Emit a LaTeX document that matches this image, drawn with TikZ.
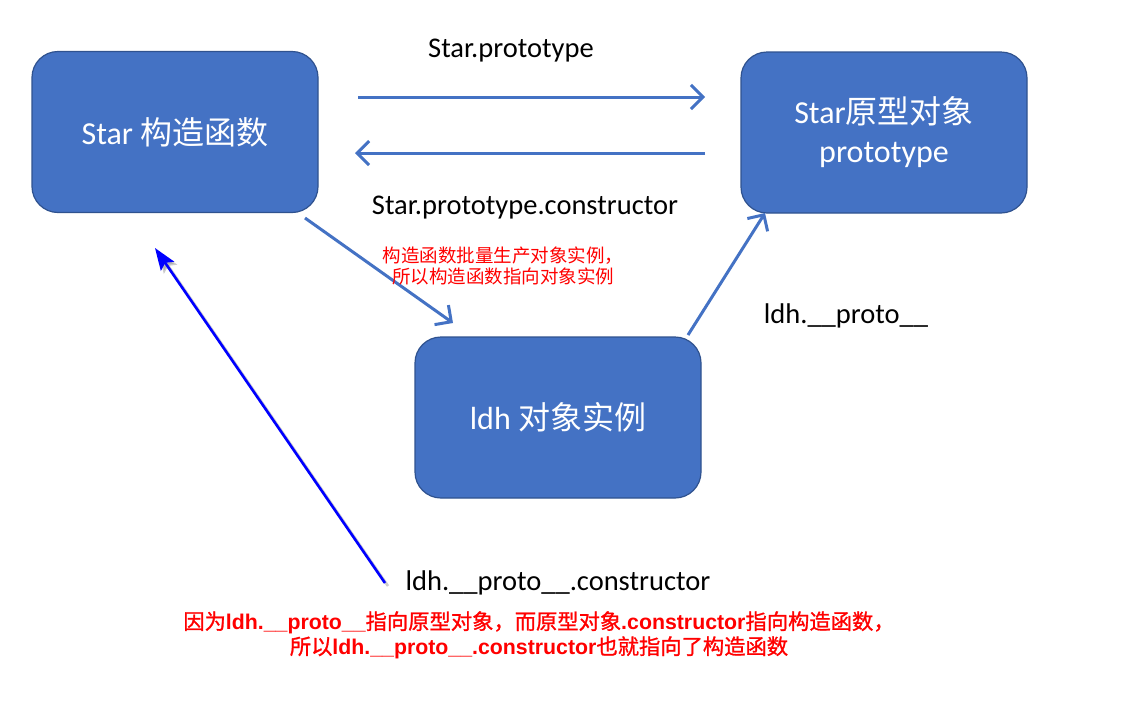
\documentclass[tikz,border=0pt]{standalone}
\usepackage{fontspec}
\setmainfont{Carlito}
\newfontfamily\cjk{Noto Sans CJK SC}
\newfontfamily\cjkb[FakeBold=1.2]{Noto Sans CJK SC}
\newfontfamily\latb{Liberation Sans}
\usetikzlibrary{arrows.meta,calc}
\definecolor{boxblue}{RGB}{68,114,196}
\definecolor{boxedge}{RGB}{47,82,143}
\definecolor{arrowblue}{RGB}{68,114,196}
\begin{document}
\begin{tikzpicture}[x=1pt,y=-1pt,
  box/.style={draw=boxedge,line width=1.2pt,fill=boxblue,rounded corners=26pt,
    minimum width=286pt,minimum height=161pt,text=white,
    font=\fontsize{32}{39}\selectfont,align=center,inner sep=0pt},
  conn/.style={draw=arrowblue,line width=3pt,
    -{Straight Barb[length=12pt,width=24pt,line width=3pt]}},
  lbl/.style={font=\fontsize{28.5}{32}\selectfont,text=black,inner sep=0pt},
  note/.style={text=red,align=center,inner sep=0pt},
  protoarrow/.style={draw=blue,line width=2.6pt,
    -{Stealth[length=22pt,width=16pt,inset=4pt]}},
  shadowline/.style={draw=black!40,opacity=0.5,line width=2.6pt,
    -{Stealth[length=22pt,width=16pt,inset=4pt]}}
]
\useasboundingbox (0,0) rectangle (1122,702);

\node[box] (A) at (175,132) {Star {\cjk 构造函数}};
\node[box] (B) at (884,132.5) {Star{\cjk 原型对象}\\prototype};
\node[box] (C) at (558,417.5) {ldh {\cjk 对象实例}};

\coordinate (p1s) at (358,97);
\coordinate (p1e) at (705,97);
\coordinate (p2s) at (705,153);
\coordinate (p2e) at (355,153);
\coordinate (p3s) at (305,218);
\coordinate (p3e) at (453,323);
\coordinate (p4s) at (688,335);
\coordinate (p4e) at (765,213);
\coordinate (bs) at (385,583);
\coordinate (be) at (155,248);

\draw[conn] (p1s) -- (p1e);
\draw[conn] (p2s) -- (p2e);
\draw[conn] (p3s) -- (p3e);
\draw[conn] (p4s) -- (p4e);

\draw[shadowline] ($(bs)+(3,3)$) -- ($(be)+(3,3)$);
\draw[protoarrow] (bs) -- (be);

\node[lbl] (l1) at (511,51) {Star.prototype};
\node[lbl] (l2) at (525,208) {Star.prototype.constructor};
\node[lbl] (l3) at (846,316) {ldh.\_\_proto\_\_};
\node[lbl] (l4) at (558,583) {ldh.\_\_proto\_\_.constructor};

\node[note,font=\cjk\fontsize{18.5}{21}\selectfont] (n1) at (503,266)
  {构造函数批量生产对象实例，\\所以构造函数指向对象实例};

\node[note,font=\fontsize{21.3}{25}\selectfont] (n2) at (539,635)
  {{\cjkb 因为}{\latb\bfseries ldh.\_\_proto\_\_}{\cjkb 指向原型对象，而原型对象}{\latb\bfseries .constructor}{\cjkb 指向构造函数，}\\
   {\cjkb 所以}{\latb\bfseries ldh.\_\_proto\_\_.constructor}{\cjkb 也就指向了构造函数}};
\end{tikzpicture}
\end{document}
